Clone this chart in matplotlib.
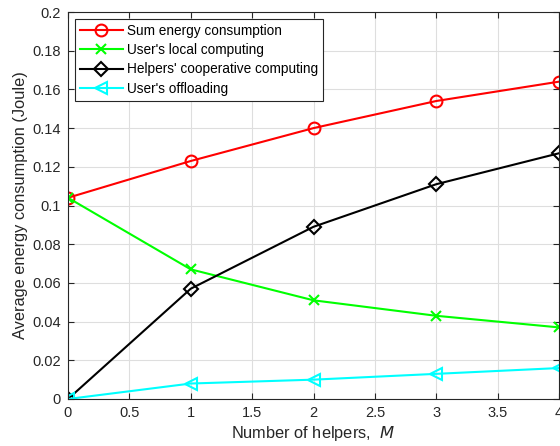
import matplotlib
matplotlib.use("Agg")
import matplotlib.pyplot as plt

plt.rcParams['font.family'] = ['Liberation Sans', 'DejaVu Sans']

helpers = [0, 1, 2, 3, 4]
sum_energy = [0.104, 0.123, 0.140, 0.154, 0.164]
local_comp = [0.104, 0.067, 0.051, 0.043, 0.037]
coop_comp = [0.000, 0.057, 0.089, 0.111, 0.127]
offloading = [0.000, 0.008, 0.010, 0.013, 0.016]

xticks = [0, 0.5, 1, 1.5, 2, 2.5, 3, 3.5, 4]
xticklabels = ['0', '0.5', '1', '1.5', '2', '2.5', '3', '3.5', '4']
yticks = [0, 0.02, 0.04, 0.06, 0.08, 0.1, 0.12, 0.14, 0.16, 0.18, 0.2]
yticklabels = ['0', '0.02', '0.04', '0.06', '0.08', '0.1', '0.12', '0.14', '0.16', '0.18', '0.2']

fig = plt.figure(figsize=(5.6, 4.46), dpi=100)
ax = fig.add_axes([68/560, 47/446, 491/560, 387/446])

lw = 1.5
ax.plot(helpers, sum_energy, color='red', marker='o', markersize=8.5, markerfacecolor='none',
        markeredgewidth=1.5, linewidth=lw, label='Sum energy consumption')
ax.plot(helpers, local_comp, color=(0, 1, 0), marker='x', markersize=7, markeredgewidth=1.5,
        linewidth=lw, label="User's local computing")
ax.plot(helpers, coop_comp, color='black', marker='D', markersize=7.5, markerfacecolor='none',
        markeredgewidth=1.5, linewidth=lw, label="Helpers' cooperative computing")
ax.plot(helpers, offloading, color='cyan', marker='<', markersize=9, markerfacecolor='none',
        markeredgewidth=1.5, linewidth=lw, label="User's offloading")

ax.set_xlim(0, 4)
ax.set_ylim(0, 0.2)
ax.set_xticks(xticks)
ax.set_xticklabels(xticklabels)
ax.set_yticks(yticks)
ax.set_yticklabels(yticklabels)
ax.grid(True, color=(0.87, 0.87, 0.87), linewidth=0.8)
ax.set_axisbelow(True)
ax.tick_params(direction='in', top=True, right=True, labelsize=10.5, colors=(0.15, 0.15, 0.15),
               length=4, pad=5)
for s in ax.spines.values():
    s.set_color((0.15, 0.15, 0.15))
    s.set_linewidth(0.8)

ax.set_xlabel('Number of helpers,  $M$', fontsize=11.8, color=(0.15, 0.15, 0.15), labelpad=3)
ax.set_ylabel('Average energy consumption (Joule)', fontsize=11.8, color=(0.15, 0.15, 0.15), labelpad=3)

leg = ax.legend(loc='upper left', fontsize=9.8, handlelength=3.2, borderaxespad=0.5,
                fancybox=False, framealpha=1, edgecolor=(0.15, 0.15, 0.15),
                labelspacing=0.4, borderpad=0.35, handletextpad=0.3)
leg.get_frame().set_linewidth(0.8)

fig.savefig('out.png', dpi=100)
